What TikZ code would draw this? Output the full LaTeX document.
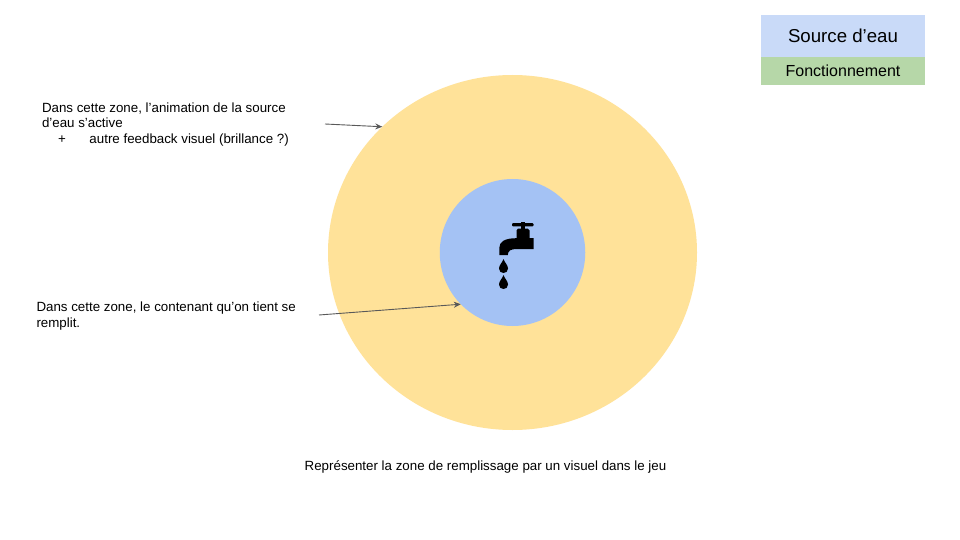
\documentclass[tikz,border=0pt]{standalone}
\usepackage{fontspec}
\setmainfont{Liberation Sans}
\usetikzlibrary{shapes.geometric,arrows.meta}
\definecolor{zoneY}{HTML}{FFE299}
\definecolor{zoneB}{HTML}{A4C2F4}
\definecolor{legB}{HTML}{C9DAF8}
\definecolor{legG}{HTML}{B6D7A8}
\definecolor{lineC}{HTML}{595959}
\newcommand{\fs}[1]{\fontsize{#1}{15.7}\selectfont}
\tikzset{
  x=1pt,y=-1pt,
  zonenode/.style={ellipse,draw=none,outer sep=0pt,inner sep=0pt},
  legnode/.style={rectangle,draw=none,outer sep=0pt,inner sep=0pt,minimum width=164pt,text=black},
  note/.style={anchor=north west,inner sep=0pt,outer sep=0pt,align=left,font=\fs{13.33}},
  arrowline/.style={draw=lineC,line width=0.9pt,-{Stealth[length=7pt,width=6pt]}},
  tap/.style={fill=black,draw=none}
}
\begin{document}
\begin{tikzpicture}
\useasboundingbox (0,0) rectangle (960,540);
\fill[white] (0,0) rectangle (960,540);
\node[zonenode,fill=zoneY,minimum width=369pt,minimum height=355pt] (outer) at (512.5,252.5) {};
\node[zonenode,fill=zoneB,minimum width=145.5pt,minimum height=147pt] (inner) at (512.5,252.5) {};
\node[legnode,fill=legB,minimum height=42pt,font=\fs{18.67}] (src) at (843,36) {\raisebox{1.2pt}{Source d’eau}};
\node[legnode,fill=legG,minimum height=28pt,font=\fs{16}] (fct) at (843,71) {Fonctionnement};
\node[note] (n1) at (42,102.5) {Dans cette zone, l’animation de la source\\d’eau s’active\\\hspace*{16pt}\makebox[31.5pt][l]{+}autre feedback visuel (brillance ?)};
\node[note] (n2) at (36.5,302) {Dans cette zone, le contenant qu’on tient se\\remplit.};
\node[anchor=center,inner sep=0pt,font=\fs{13.33}] (cap) at (485.5,466.5) {Représenter la zone de remplissage par un visuel dans le jeu};
\coordinate (a1) at (325,124);
\coordinate (a2) at (319,315);
\draw[arrowline] (a1) -- (outer.136.35);
\draw[arrowline] (a2) -- (inner.225.3);
% tap
\fill[tap,rounded corners=1pt] (512,223.2) rectangle (533.5,226.4);
\fill[tap] (520.8,221.8) rectangle (525,230);
\fill[tap] (518,228.5) -- (527.5,228.5) -- (529.5,230.5) -- (529.5,238) -- (533.5,238) -- (533.5,249.2) -- (517,249)
  .. controls (511,249) and (507.8,250.5) .. (507.8,255) -- (499.3,255) -- (499.3,248)
  .. controls (499.3,241.5) and (505,238.2) .. (516.5,238.2) -- (516.5,230.5) -- cycle;
\fill[tap] (503.5,259) .. controls (504.5,262.5) and (508,265) .. (508,268.5)
  .. controls (508,271.5) and (506,273) .. (503.5,273) .. controls (501,273) and (499,271.5) .. (499,268.5)
  .. controls (499,265) and (502.5,262.5) .. (503.5,259) -- cycle;
\fill[tap] (503.5,275) .. controls (504.5,278.5) and (508,281) .. (508,284.5)
  .. controls (508,287.5) and (506,289) .. (503.5,289) .. controls (501,289) and (499,287.5) .. (499,284.5)
  .. controls (499,281) and (502.5,278.5) .. (503.5,275) -- cycle;
\end{tikzpicture}
\end{document}
